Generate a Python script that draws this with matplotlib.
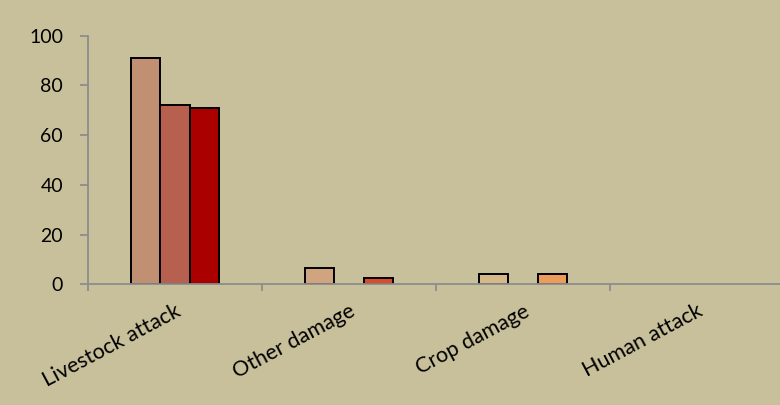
import matplotlib
matplotlib.use('Agg')
import matplotlib.pyplot as plt
import numpy as np

categories = ['Livestock attack', 'Other damage', 'Crop damage', 'Human attack']
series_1 = [91, 6.4, 4, 0]
series_2 = [72, 0, 0, 0]
series_3 = [71, 2.4, 4, 0]

# colours per bar (each category uses its own shade)
colors_1 = ['#C19073', '#CFA47E', '#D5B98B', '#D5B98B']
colors_2 = ['#B86050', '#B86050', '#B86050', '#B86050']
colors_3 = ['#AA0000', '#DA4B2C', '#EC9B59', '#EC9B59']

bg = '#C8C09A'
axis_grey = '#8C8C8C'

plt.rcParams['font.family'] = ['Lato', 'DejaVu Sans']

fig = plt.figure(figsize=(7.8, 4.05), dpi=100, facecolor=bg)
ax = fig.add_axes([0.1128, 0.298, 0.8923, 0.614])
ax.set_facecolor(bg)

x = np.arange(len(categories))
w = 0.168
for vals, cols, off in [(series_1, colors_1, -w), (series_2, colors_2, 0), (series_3, colors_3, w)]:
    for xi, v, c in zip(x, vals, cols):
        if v > 0:
            ax.bar(xi + off, v, width=w, color=c, edgecolor='black', linewidth=1.4, zorder=3)

ax.set_xlim(-0.5, len(categories) - 0.5)
ax.set_ylim(0, 100)
ax.set_yticks(range(0, 101, 20))

ax.set_xticks(x)
ax.set_xticklabels(categories, rotation=28, ha='right', va='top', rotation_mode='anchor', fontsize=15.5)
ax.set_xticks(np.arange(-0.5, len(categories) + 0.5, 1), minor=True)
ax.tick_params(axis='x', which='major', length=0, pad=12)
ax.tick_params(axis='x', which='minor', length=5, width=1.3, color=axis_grey, direction='out')
ax.tick_params(axis='y', length=6, width=1.3, color=axis_grey, direction='out', labelsize=14, pad=12)

for s in ['top', 'right']:
    ax.spines[s].set_visible(False)
for s in ['left', 'bottom']:
    ax.spines[s].set_color(axis_grey)
    ax.spines[s].set_linewidth(1.3)
ax.spines['bottom'].set_zorder(4)

fig.savefig('out.png', dpi=100, facecolor=bg)
